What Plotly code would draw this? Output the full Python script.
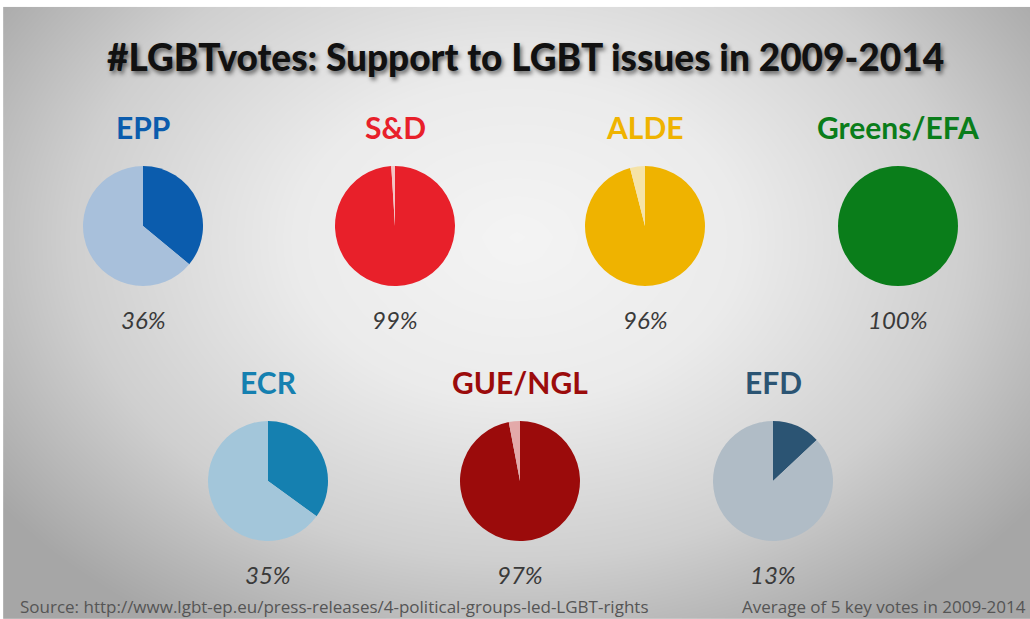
import numpy as np
import plotly.graph_objects as go

# ---- data ----
groups = ["EPP", "S&D", "ALDE", "Greens/EFA", "ECR", "GUE/NGL", "EFD"]
support = [36, 99, 96, 100, 35, 97, 13]
pct_labels = ["36%", "99%", "96%", "100%", "35%", "97%", "13%"]
dark_colors = ["#0b5cad", "#e8202a", "#efb300", "#0a7d1a", "#1580b0", "#9b0b0b", "#2b5473"]
light_colors = ["#a8c0db", "#f4c4c4", "#f5e3a8", "#bfe0bf", "#a3c6da", "#e3a9a9", "#b0bcc6"]
title_text = "#LGBTvotes: Support to LGBT issues in 2009-2014"
source_text = "Source: http://www.lgbt-ep.eu/press-releases/4-political-groups-led-LGBT-rights"
note_text = "Average of 5 key votes in 2009-2014"

# ---- layout constants ----
W, H = 1030, 619
centers = [(143, 226), (395, 226), (645, 226), (898, 226),
           (268, 481), (520, 481), (773, 481)]
R = 60

fig = go.Figure()

# background radial gradient (decorative)
gx = np.linspace(0, 1, 41)
gy = np.linspace(0, 1, 25)
X, Y = np.meshgrid(gx, gy)
D = np.sqrt(((X - 0.5) / 0.62) ** 2 + ((Y - 0.62) / 0.75) ** 2)
fig.add_trace(go.Heatmap(
    x=gx, y=gy, z=D, zsmooth="best", showscale=False, hoverinfo="skip",
    colorscale=[[0, "#f4f4f4"], [0.35, "#ebebeb"], [0.7, "#cfcfcf"], [1, "#a6a6a6"]],
    zmin=0, zmax=1.0, xaxis="x", yaxis="y"))


def ann(x, y, text, font, xanchor="center"):
    fig.add_annotation(x=x / W, y=1 - y / H, xref="paper", yref="paper",
                       xanchor=xanchor, yanchor="middle",
                       text=text, showarrow=False, font=font)


for i, g in enumerate(groups):
    cx, cy = centers[i]
    fig.add_trace(go.Pie(
        values=[support[i], 100 - support[i]],
        labels=["Support", "Other"],
        marker=dict(colors=[dark_colors[i], light_colors[i]], line=dict(width=0)),
        sort=False, direction="clockwise", rotation=0,
        textinfo="none", hoverinfo="skip", showlegend=False,
        domain=dict(x=[(cx - R) / W, (cx + R) / W],
                    y=[1 - (cy + R) / H, 1 - (cy - R) / H])))
    ann(cx, cy - 99, "<b>%s</b>" % g,
        dict(family="Lato", size=30, color=dark_colors[i]))
    ann(cx, cy + 93, "<i>%s</i>" % pct_labels[i],
        dict(family="Lato", size=24, color="#3a3a3a"))

ann(525, 57, title_text,
    dict(family="Lato", size=37, weight=900, color="#111111",
         shadow="2px 3px 4px rgba(0,0,0,0.55)"))
ann(18, 606, source_text, dict(family="Open Sans", size=17, color="#555555"), xanchor="left")
ann(1028, 606, note_text, dict(family="Open Sans", size=17, color="#555555"), xanchor="right")

fig.update_layout(
    width=W, height=H, margin=dict(l=0, r=0, t=0, b=0),
    paper_bgcolor="white", plot_bgcolor="white",
    xaxis=dict(domain=[0.003, 1], range=[0, 1], visible=False, fixedrange=True),
    yaxis=dict(domain=[0, 0.989], range=[0, 1], visible=False, fixedrange=True),
    showlegend=False)

fig.write_html("out.html")
